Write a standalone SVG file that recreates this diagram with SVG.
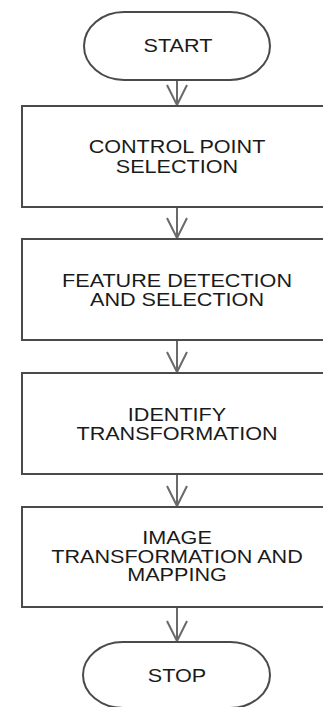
<svg xmlns="http://www.w3.org/2000/svg" width="323" height="707" viewBox="0 0 323 707">
<style>
.sh{fill:#fff;stroke:#4a4a4a;stroke-width:2}
.t{font-family:"Liberation Sans",Arial,sans-serif;font-size:18px;fill:#1a1a1a;text-anchor:middle}
.c{fill:none;stroke:#6a6a6a;stroke-width:2}
</style>
<rect width="323" height="707" fill="#fff"/>
<g id="connectors">
<path class="c" d="M177,80 V105"/>
<path class="c" d="M177,207 V238"/>
<path class="c" d="M177,340 V372"/>
<path class="c" d="M177,474 V506"/>
<path class="c" d="M177,607 V641"/>
<path class="c" d="M167,85 L177,105 L187,85"/>
<path class="c" d="M167,218 L177,238 L187,218"/>
<path class="c" d="M167,352 L177,372 L187,352"/>
<path class="c" d="M167,486 L177,506 L187,486"/>
<path class="c" d="M167,621 L177,641 L187,621"/>
</g>
<g id="start">
<rect class="sh" x="84" y="12" width="186" height="68" rx="40" ry="34"/>
<text class="t" transform="translate(178,52) scale(1.2,1)">START</text>
</g>
<g id="control">
<rect class="sh" x="22" y="106" width="312" height="101"/>
<g transform="translate(177,0) scale(1.2,1)">
<text class="t" x="0" y="153">CONTROL POINT</text>
<text class="t" x="0" y="173">SELECTION</text>
</g>
</g>
<g id="feature">
<rect class="sh" x="22" y="239" width="312" height="101"/>
<g transform="translate(177,0) scale(1.2,1)">
<text class="t" x="0" y="287">FEATURE DETECTION</text>
<text class="t" x="0" y="306">AND SELECTION</text>
</g>
</g>
<g id="identify">
<rect class="sh" x="22" y="373" width="312" height="101"/>
<g transform="translate(177,0) scale(1.2,1)">
<text class="t" x="0" y="421">IDENTIFY</text>
<text class="t" x="0" y="440">TRANSFORMATION</text>
</g>
</g>
<g id="image">
<rect class="sh" x="22" y="507" width="312" height="100"/>
<g transform="translate(177,0) scale(1.2,1)">
<text class="t" x="0" y="544">IMAGE</text>
<text class="t" x="0" y="563">TRANSFORMATION AND</text>
<text class="t" x="0" y="581">MAPPING</text>
</g>
</g>
<g id="stop">
<rect class="sh" x="83" y="642" width="187" height="66" rx="40" ry="33"/>
<text class="t" transform="translate(177,682) scale(1.2,1)">STOP</text>
</g>
</svg>
